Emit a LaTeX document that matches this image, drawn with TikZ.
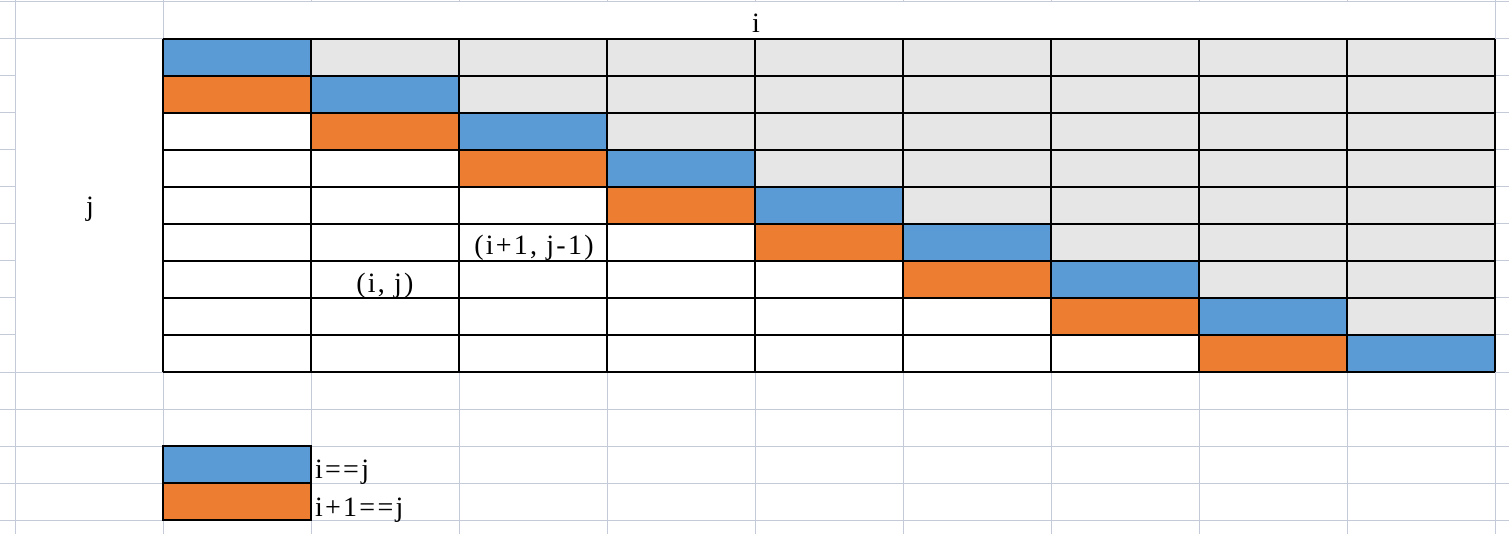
\documentclass[tikz,border=0pt]{standalone}
\usepackage{fontspec}
\setmainfont{Liberation Serif}[LetterSpace=8]
\definecolor{cblue}{HTML}{5B9BD5}
\definecolor{corange}{HTML}{ED7D31}
\definecolor{cgray}{HTML}{E7E6E6}
\definecolor{gridc}{RGB}{196,202,216}
\tikzset{
  xlgrid/.style={draw=gridc, line width=1pt},
  tabline/.style={draw=black, line width=1.1pt},
  lbl/.style={anchor=base, inner sep=0pt, font=\fontsize{28}{31}\selectfont},
  lgl/.style={anchor=base west, inner sep=0pt, font=\fontsize{28}{31}\selectfont},
}
\begin{document}
\begin{tikzpicture}[x=1pt,y=-1pt]
\useasboundingbox (0,0) rectangle (1509,534);
\fill[white] (0,0) rectangle (1509,534);
% ---- spreadsheet gridlines ----
\foreach \xx in {15,163,311,459,607,755,903,1051,1199,1347,1495}
  \draw[xlgrid] (\xx,0) -- (\xx,2);
\draw[xlgrid] (0,2) -- (1509,2);
\foreach \xx in {15,163,1495}
  \draw[xlgrid] (\xx,2) -- (\xx,39);
\draw[xlgrid] (0,39) -- (1509,39);
\draw[xlgrid] (15,39) -- (15,534);
\foreach \yy in {76,113,150,187,224,261,298,335}{
  \draw[xlgrid] (0,\yy) -- (15,\yy);
  \draw[xlgrid] (1495,\yy) -- (1509,\yy);
}
\foreach \yy in {372,409,446,483,520}
  \draw[xlgrid] (0,\yy) -- (1509,\yy);
\foreach \xx in {163,311,459,607,755,903,1051,1199,1347,1495}
  \draw[xlgrid] (\xx,372) -- (\xx,534);
% ---- table fills ----
\foreach \r in {0,...,8}{
  \foreach \c in {0,...,8}{
    \pgfmathtruncatemacro{\d}{\c-\r}
    \ifnum\d>0
      \fill[cgray] (163+148*\c,39+37*\r) rectangle ++(148,37);
    \fi
    \ifnum\d=0
      \fill[cblue] (163+148*\c,39+37*\r) rectangle ++(148,37);
    \fi
    \ifnum\d=-1
      \fill[corange] (163+148*\c,39+37*\r) rectangle ++(148,37);
    \fi
  }
}
% ---- table lines ----
\foreach \k in {0,...,9}{
  \draw[tabline] (163+148*\k,39) -- (163+148*\k,372);
  \draw[tabline] (163,39+37*\k) -- (1495,39+37*\k);
}
% ---- legend ----
\fill[cblue] (163,446) rectangle (311,483);
\fill[corange] (163,483) rectangle (311,520);
\draw[tabline] (163,446) rectangle (311,520);
\draw[tabline] (163,483) -- (311,483);
% ---- labels ----
\node[lbl] (ilab) at (756,33) {i};
\node[lbl] (jlab) at (90,216) {j};
\node[lbl] (ip1) at (534,255) {(i+1, j-1)};
\node[lbl] (ij) at (385,293) {(i, j)};
\node[lgl] (leg1) at (315,478) {i==j};
\node[lgl] (leg2) at (315,516) {i+1==j};
\end{tikzpicture}
\end{document}
